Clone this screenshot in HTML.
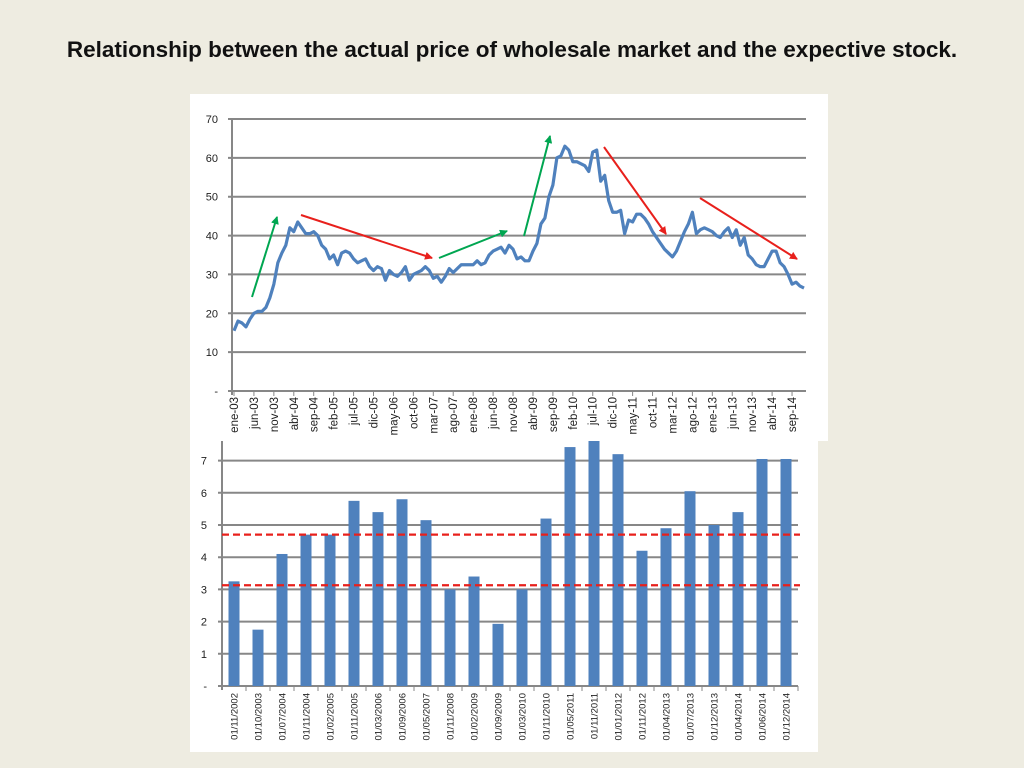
<!DOCTYPE html>
<html><head><meta charset="utf-8"><style>
body{margin:0;width:1024px;height:768px;background:#EEECE1;font-family:"Liberation Sans",sans-serif;overflow:hidden}
svg{position:absolute;left:0;top:0}
</style></head><body>
<svg id="s" width="1024" height="768">
<text x="512" y="57" text-anchor="middle" font-size="22.5" font-weight="bold" fill="#111">Relationship between the actual price of wholesale market and the expective stock.</text>
<rect x="190" y="94" width="638" height="347" fill="#fff"/>
<rect x="190" y="441" width="628" height="311" fill="#fff"/>
<g id="top"></g><g id="bot"></g>
</svg>
<script>
const monthLabels=["ene-03","jun-03","nov-03","abr-04","sep-04","feb-05","jul-05","dic-05","may-06","oct-06","mar-07","ago-07","ene-08","jun-08","nov-08","abr-09","sep-09","feb-10","jul-10","dic-10","may-11","oct-11","mar-12","ago-12","ene-13","jun-13","nov-13","abr-14","sep-14"];
const priceValues=[15.5,18,17.5,16.5,18.5,20,20.5,20.5,21.5,24,27.5,33,35.5,37.5,42,41,43.5,42,40.5,40.5,41,40,37.5,36.5,34,35,32.5,35.5,36,35.5,34,33,33.5,34,32,31,32,31.5,28.5,31,30,29.5,30.5,32,28.5,30,30.5,31,32,31,29,29.5,28,29.5,31.5,30.5,31.5,32.5,32.5,32.5,32.5,33.5,32.5,33,35,36,36.5,37,35.5,37.5,36.5,34,34.5,33.5,33.5,36,38,43,44.5,50,53,60,60.5,63,62,59,59,58.5,58,56.5,61.5,62,54,55.5,49,46,46,46.5,40.5,44,43.5,45.5,45.5,44.5,43,41,39.5,38,36.5,35.5,34.5,36,38.5,41,43,46,40.5,41.5,42,41.5,41,40,39.5,41,42,39.5,41.5,37.5,39.5,35,34,32.5,32,32,34,36,36,33,32,30,27.5,28,27,26.5];
const priceTicks=[0,10,20,30,40,50,60,70];
const barDates=["01/11/2002","01/10/2003","01/07/2004","01/11/2004","01/02/2005","01/11/2005","01/03/2006","01/09/2006","01/05/2007","01/11/2008","01/02/2009","01/09/2009","01/03/2010","01/11/2010","01/05/2011","01/11/2011","01/01/2012","01/11/2012","01/04/2013","01/07/2013","01/12/2013","01/04/2014","01/06/2014","01/12/2014"];
const stockValues=[3.25,1.75,4.1,4.7,4.7,5.75,5.4,5.8,5.15,3.0,3.4,1.93,3.0,5.2,7.42,7.65,7.2,4.2,4.9,6.05,5.0,5.4,7.05,7.05];
const stockTicks=[0,1,2,3,4,5,6,7];
const thresholds=[4.7,3.13];
const NS="http://www.w3.org/2000/svg";
function mk(p,t,a){const e=document.createElementNS(NS,t);for(const k in a)e.setAttribute(k,a[k]);p.appendChild(e);return e;}
const T=document.getElementById('top');
const tx0=232,tx1=806,ty0=391,ty1=119;
const ty=v=>ty0-(v/70)*(ty0-ty1);
const tx=i=>tx0+(i+0.5)*(tx1-tx0)/priceValues.length;
priceTicks.forEach(v=>{
 const l=mk(T,'line',{x1:tx0-4,x2:tx1,y1:ty(v),y2:ty(v),stroke:'#878787','stroke-width':2});
 
 
 const t=mk(T,'text',{x:218,y:ty(v)+4,'text-anchor':'end','font-size':11,fill:'#222'});
 t.textContent=v===0?'-':v;
 
 
});
const ax=mk(T,'line',{x1:tx0,x2:tx0,y1:ty1,y2:ty0+4,stroke:'#878787','stroke-width':2});


monthLabels.forEach((m,k)=>{
 const x=tx(k*5);
 const tk=mk(T,'line',{x1:x,x2:x,y1:ty0,y2:ty0+5,stroke:'#878787','stroke-width':1});
 
 
 const t=mk(T,'text',{x:0,y:0,'text-anchor':'end','font-size':11.5,fill:'#222',transform:`translate(${x+4},${ty0+6}) rotate(-90)`});
 t.textContent=m;
 
 
});
const pl=mk(T,'polyline',{points:priceValues.map((v,i)=>tx(i)+','+ty(v)).join(' '),fill:'none',stroke:'#4F81BD','stroke-width':3.2,'stroke-linejoin':'round'});


const defs=mk(document.getElementById('s'),'defs',{});
[['g','#00A651'],['r','#E8201C']].forEach(([id,c])=>{const m=mk(defs,'marker',{id:'a'+id,markerWidth:8,markerHeight:8,refX:7,refY:4,orient:'auto',markerUnits:'userSpaceOnUse'});mk(m,'path',{d:'M0,0 L8,4 L0,8 Z',fill:c});});
const arrows=[[252,297,277,217,'g'],[301,215,432,258,'r'],[439,258,507,231,'g'],[524,236,550,136,'g'],[604,147,666,234,'r'],[700,198,797,259,'r']];
arrows.forEach(a=>{
 const l=mk(T,'line',{x1:a[0],y1:a[1],x2:a[2],y2:a[3],stroke:a[4]=='g'?'#00A651':'#E8201C','stroke-width':2,'marker-end':'url(#a'+a[4]+')'});
 
 
});
const B=document.getElementById('bot');
const bx0=222,bx1=798,by0=686,unit=32.2;
const by=v=>by0-v*unit;
const bw=(bx1-bx0)/stockValues.length;
const bxc=i=>bx0+(i+0.5)*bw;
stockTicks.forEach(v=>{
 const l=mk(B,'line',{x1:bx0-4,x2:bx1,y1:by(v),y2:by(v),stroke:'#878787','stroke-width':2});
 
 
 const t=mk(B,'text',{x:207,y:by(v)+4,'text-anchor':'end','font-size':11,fill:'#222'});
 t.textContent=v===0?'-':v;
 
 
});
const ax2=mk(B,'line',{x1:bx0,x2:bx0,y1:441,y2:by0+4,stroke:'#878787','stroke-width':2});


stockValues.forEach((v,i)=>{
 const top=Math.max(by(v),441);
 const r=mk(B,'rect',{x:bxc(i)-5.5,y:top,width:11,height:by0-top,fill:'#4F81BD'});
 
 
 const tk=mk(B,'line',{x1:bx0+(i+1)*bw,x2:bx0+(i+1)*bw,y1:by0,y2:by0+5,stroke:'#878787'});
 
 
 const t=mk(B,'text',{x:0,y:0,'text-anchor':'end','font-size':9.5,fill:'#222',transform:`translate(${bxc(i)+3.5},${by0+7}) rotate(-90)`});
 t.textContent=barDates[i];
 
 
});
thresholds.forEach(v=>{
 const l=mk(B,'line',{x1:bx0,x2:bx1+2,y1:by(v),y2:by(v),stroke:'#E8201C','stroke-width':2.2,'stroke-dasharray':'7,4'});
 
 
});
</script>
</body></html>
